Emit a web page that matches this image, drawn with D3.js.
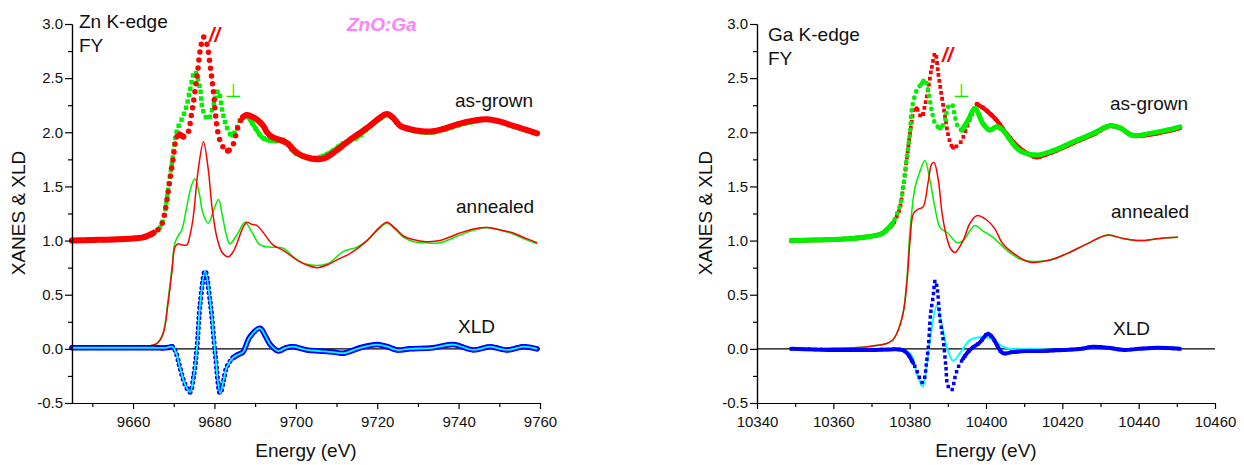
<!DOCTYPE html>
<html>
<head>
<meta charset="utf-8">
<script src="https://cdn.jsdelivr.net/npm/d3@7/dist/d3.min.js"></script>
<style>
  body { margin: 0; background: #fff; }
  svg { font-family: "Liberation Sans", Arial, sans-serif; }
</style>
</head>
<body>
<svg width="1244" height="465"></svg>
<script>
// ---- axis ticks ----
var yTicks = [-0.5, 0, 0.5, 1, 1.5, 2, 2.5, 3];
var yMinor = [-0.25, 0.25, 0.75, 1.25, 1.75, 2.25, 2.75];
var znTicks = [9660, 9680, 9700, 9720, 9740, 9760];
var znMinor = [9650, 9670, 9690, 9710, 9730, 9750];
var gaTicks = [10340, 10360, 10380, 10400, 10420, 10440, 10460];
var gaMinor = [10350, 10370, 10390, 10410, 10430, 10450];

// ---- Zn K-edge, [energy eV, value] ----
var znParGrown = [[9645,1.00],[9650,1.005],[9655,1.01],[9660,1.02],[9662.5,1.03],[9665,1.07],[9666.6,1.12],[9667.4,1.19],[9668.3,1.37],[9669,1.55],[9669.8,1.74],[9670.8,1.96],[9671.5,1.98],[9672.3,1.96],[9673.2,1.97],[9674.5,2.20],[9675.7,2.51],[9676.6,2.78],[9677.3,2.88],[9678.1,2.82],[9679,2.60],[9679.7,2.39],[9680.9,1.99],[9682,1.87],[9683.3,1.83],[9684.5,1.88],[9685.8,2.05],[9687,2.14],[9688,2.16],[9689.5,2.14],[9690.7,2.11],[9692,2.06],[9692.9,2.00],[9694,1.96],[9695.3,1.94],[9697.8,1.90],[9700.3,1.81],[9702.5,1.77],[9705.2,1.75],[9707,1.76],[9709.2,1.81],[9711.3,1.87],[9713.3,1.93],[9717.5,2.04],[9720.5,2.13],[9722.4,2.17],[9724,2.13],[9725.6,2.06],[9728,2.03],[9731,2.01],[9733.7,2.01],[9737,2.04],[9740.3,2.08],[9744,2.11],[9747,2.12],[9750,2.10],[9753.4,2.06],[9756,2.03],[9759.3,1.99]];
var znPerpGrown = [[9645,1.00],[9650,1.005],[9655,1.01],[9660,1.02],[9662.5,1.03],[9665,1.07],[9666.6,1.12],[9667.4,1.19],[9668.3,1.38],[9669,1.57],[9669.8,1.78],[9670.5,1.97],[9671,2.04],[9672.3,2.15],[9673.2,2.25],[9674,2.39],[9675.2,2.56],[9676.4,2.42],[9677.2,2.20],[9678.4,2.12],[9679.7,2.24],[9680.9,2.38],[9682.1,2.17],[9683,2.05],[9684.3,1.97],[9685.3,2.02],[9686.3,2.11],[9688,2.16],[9689.2,2.09],[9690.4,2.02],[9691.5,1.96],[9692.9,1.93],[9695.3,1.92],[9696.9,1.93],[9698,1.90],[9699.4,1.82],[9702.7,1.77],[9706,1.77],[9709.1,1.83],[9711.7,1.90],[9715,1.95],[9717.5,2.03],[9720.5,2.12],[9722.4,2.16],[9724,2.13],[9725.6,2.06],[9728,2.02],[9731,2.00],[9733.7,2.00],[9737,2.03],[9740.3,2.07],[9744,2.10],[9747,2.12],[9750,2.10],[9753.4,2.06],[9756,2.03],[9759.3,1.99]];
var znParAnn = [[9645,0],[9655,0],[9660,0.005],[9663,0.02],[9665.9,0.05],[9667.4,0.14],[9668.6,0.42],[9669.6,0.73],[9670.3,0.94],[9671.1,0.97],[9672,0.96],[9673.2,0.96],[9674,1.05],[9674.8,1.22],[9676,1.65],[9677.3,1.91],[9678.5,1.65],[9679.4,1.31],[9680.6,1.03],[9681.9,0.89],[9683.4,0.85],[9684.5,0.89],[9685.5,0.97],[9687,1.12],[9688,1.17],[9689.2,1.15],[9690.4,1.14],[9691.9,1.08],[9694.4,0.96],[9696.9,0.91],[9700.3,0.82],[9703,0.77],[9705.2,0.75],[9708,0.78],[9710,0.82],[9713.3,0.88],[9717.5,1.00],[9720.5,1.12],[9722.4,1.17],[9724.5,1.11],[9726.5,1.04],[9728.8,1.01],[9732,0.99],[9735.4,1.00],[9740.3,1.07],[9744,1.11],[9747,1.12],[9750,1.10],[9753.4,1.07],[9756.5,1.02],[9759.3,0.98]];
var znPerpAnn = [[9645,0],[9655,0],[9660,0.005],[9663,0.02],[9665.9,0.05],[9667.4,0.15],[9668.6,0.45],[9669.6,0.76],[9670.3,0.98],[9671.5,1.07],[9672,1.10],[9673.2,1.31],[9674.3,1.50],[9675.2,1.57],[9676.2,1.45],[9677.2,1.25],[9678.5,1.16],[9679.7,1.27],[9681,1.38],[9682,1.22],[9683,1.04],[9683.8,0.97],[9685.8,1.07],[9687.5,1.17],[9689.2,1.08],[9691.2,0.96],[9693.6,0.94],[9696.9,0.93],[9699.4,0.85],[9701.8,0.79],[9705,0.77],[9708,0.79],[9711.7,0.90],[9715,0.94],[9717.5,1.00],[9720.5,1.11],[9722.4,1.16],[9724.5,1.10],[9726.5,1.03],[9729,0.99],[9732,0.98],[9735.4,0.98],[9740.3,1.05],[9744,1.10],[9747,1.12],[9750,1.10],[9753.4,1.06],[9756.5,1.01],[9759.3,0.97]];
var znXld = [[9645,0.01],[9655,0.01],[9665,0.01],[9668,0.01],[9669.6,0.02],[9670.5,-0.03],[9671.5,-0.17],[9672.8,-0.33],[9674,-0.40],[9674.9,-0.25],[9675.7,0.01],[9676.5,0.42],[9677.7,0.72],[9679,0.42],[9680.2,-0.05],[9681.4,-0.41],[9682.2,-0.30],[9683,-0.17],[9684.6,-0.08],[9686,-0.05],[9687,-0.03],[9688.7,0.11],[9691.2,0.19],[9692.5,0.12],[9693.7,0.04],[9695.7,-0.02],[9697.5,0.01],[9699.4,0.02],[9702.7,-0.01],[9706,-0.02],[9709.2,-0.03],[9711.7,-0.04],[9715.8,0.01],[9720,0.04],[9722.5,0.02],[9724.8,-0.01],[9728,0.00],[9733.7,0.01],[9738.7,0.04],[9743.6,-0.01],[9747.7,0.02],[9751.9,-0.01],[9755.9,0.02],[9759.3,0.00]];

// ---- Ga K-edge ----
var gaParGrown = [[10349,1.00],[10355,1.005],[10360,1.01],[10365,1.02],[10370,1.04],[10372.5,1.06],[10374,1.10],[10375.5,1.15],[10376.6,1.22],[10377.5,1.31],[10378.3,1.49],[10379.3,1.77],[10380.1,1.99],[10380.6,2.11],[10381.2,2.22],[10381.8,2.22],[10383.1,2.14],[10384,2.25],[10384.8,2.39],[10385.8,2.60],[10386.7,2.73],[10387.5,2.54],[10388.4,2.33],[10389.3,2.14],[10390,1.99],[10390.7,1.90],[10391.4,1.86],[10393.2,1.90],[10395,2.05],[10396.7,2.20],[10397.6,2.26],[10400.2,2.20],[10402.8,2.11],[10405.5,1.98],[10408.9,1.85],[10412.3,1.78],[10413.3,1.77],[10417.6,1.82],[10422.8,1.90],[10428.1,1.98],[10432.5,2.06],[10435.1,2.04],[10438.5,1.97],[10443,1.98],[10447.4,2.01],[10450.8,2.04]];
var gaPerpGrown = [[10349,1.00],[10355,1.005],[10360,1.01],[10365,1.02],[10370,1.04],[10372.5,1.06],[10374,1.10],[10375.5,1.16],[10376.6,1.24],[10377.5,1.33],[10378.3,1.50],[10379.3,1.78],[10380.1,2.00],[10380.6,2.22],[10381.9,2.39],[10383.2,2.45],[10384,2.49],[10384.8,2.39],[10385.8,2.20],[10386.7,2.08],[10388,2.04],[10389.3,2.11],[10390,2.23],[10391,2.26],[10391.9,2.14],[10392.7,2.05],[10393.7,2.02],[10395.3,2.11],[10397.1,2.22],[10399.2,2.08],[10401,2.02],[10402.8,2.05],[10404.4,2.02],[10406.3,1.93],[10408.9,1.83],[10413.3,1.79],[10417.6,1.83],[10422.8,1.91],[10428.1,1.99],[10432.5,2.06],[10435.1,2.04],[10438.5,1.97],[10443,1.99],[10447.4,2.02],[10450.8,2.05]];
var gaParAnn = [[10349,0],[10355,0],[10360,0.005],[10365.2,0.01],[10370,0.025],[10374,0.05],[10375.5,0.08],[10376.6,0.14],[10378.3,0.33],[10379.3,0.62],[10380.1,1.00],[10381,1.25],[10382.2,1.29],[10383.5,1.31],[10384.8,1.53],[10385.8,1.71],[10386.4,1.72],[10387.5,1.56],[10388.5,1.25],[10389.7,1.03],[10390.8,0.92],[10391.9,0.89],[10394,1.00],[10395.8,1.16],[10397.6,1.23],[10400.2,1.19],[10402.3,1.11],[10404.4,0.97],[10408.1,0.86],[10411.5,0.80],[10416.8,0.82],[10421.2,0.88],[10426.5,0.97],[10431.7,1.05],[10435.9,1.02],[10440.3,1.00],[10445.6,1.02],[10450.3,1.03]];
var gaPerpAnn = [[10349,0],[10355,0],[10360,0.005],[10365.2,0.01],[10370,0.025],[10374,0.05],[10375.5,0.08],[10376.6,0.14],[10378.3,0.34],[10379.3,0.66],[10380.1,1.10],[10381.4,1.49],[10382.7,1.64],[10384,1.74],[10385.3,1.56],[10386.6,1.31],[10388,1.12],[10390,1.07],[10392.4,0.98],[10394,1.00],[10395.8,1.09],[10397.1,1.14],[10399.2,1.09],[10401.8,1.03],[10405.5,0.91],[10408.9,0.83],[10411.5,0.81],[10416.8,0.82],[10421.2,0.88],[10426.5,0.97],[10431.7,1.05],[10435.9,1.02],[10440.3,1.00],[10445.6,1.02],[10450.3,1.03]];
var gaXld = [[10349,0.00],[10355,-0.005],[10360,-0.01],[10365,-0.01],[10370,-0.01],[10375,-0.005],[10378,-0.01],[10379.3,-0.04],[10380.9,-0.13],[10382.2,-0.23],[10383.2,-0.31],[10383.8,-0.28],[10384.4,-0.13],[10384.9,0.02],[10385.5,0.33],[10386.1,0.47],[10386.7,0.63],[10387.2,0.56],[10387.9,0.29],[10388.8,0.08],[10389.5,-0.17],[10390,-0.34],[10391,-0.38],[10391.9,-0.26],[10392.7,-0.17],[10394,-0.09],[10395.8,-0.01],[10398.4,0.06],[10400.5,0.14],[10401.8,0.10],[10403.1,0.02],[10404.4,-0.04],[10407,-0.03],[10410.7,-0.02],[10415,-0.02],[10420,-0.01],[10425,0.00],[10428,0.02],[10432,0.01],[10436,-0.01],[10440,0.00],[10445,0.01],[10450.8,0.00]];
var gaXldSim = [[10349,0.00],[10360,-0.005],[10370,-0.005],[10377,-0.01],[10380.1,-0.04],[10381.9,-0.23],[10383.4,-0.35],[10384.4,-0.17],[10385.3,0.08],[10387.1,0.40],[10388.4,0.23],[10389.7,0.02],[10391.4,-0.11],[10393.2,-0.04],[10395.8,0.08],[10399.2,0.11],[10401.8,0.09],[10404.4,0.02],[10406.3,0.00],[10412,0.00],[10420,-0.01],[10428,0.01],[10435,0.00],[10442,0.00],[10450.8,0.01]];

var RED = "#ff0000", GREEN = "#00f000", BLUE = "#0000ff", CYAN = "#00ffff";
var svg = d3.select("svg");

function drawPanel(p) {
  var x = d3.scaleLinear().domain(p.xDomain).range(p.xRange);
  var y = d3.scaleLinear().domain([-0.5, 3.0]).range([403, 24]);
  var g = svg.append("g");
  var line = d3.line()
    .x(function (d) { return x(d[0]); })
    .y(function (d) { return y(d[1]); })
    .curve(d3.curveCatmullRom.alpha(0.5));

  // horizontal zero line
  g.append("line")
    .attr("x1", p.xRange[0]).attr("x2", p.xRange[1])
    .attr("y1", y(0)).attr("y2", y(0))
    .attr("stroke", "#000").attr("stroke-width", 1.2);

  function thin(data, color, w) {
    g.append("path").datum(data)
      .attr("d", line).attr("fill", "none")
      .attr("stroke", color).attr("stroke-width", w || 1.5);
  }

  // dense scatter: beads along the curve, solid band where the curve is flat
  function dots(data, color, size, cap, step, band) {
    g.append("path").datum(data)
      .attr("d", line).attr("fill", "none")
      .attr("stroke", color).attr("stroke-width", size)
      .attr("stroke-linecap", cap)
      .attr("stroke-dasharray", "0," + step);
    var slope = data.map(function (d, i) {
      if (i === 0) return 0;
      var a = data[i - 1];
      return Math.abs((y(d[1]) - y(a[1])) / (x(d[0]) - x(a[0])));
    });
    var flat = data.map(function (d, i) {
      var s1 = slope[i], s2 = i + 1 < data.length ? slope[i + 1] : 0;
      return Math.max(s1, s2) < 2.2;
    });
    g.append("path").datum(data)
      .attr("d", line.defined(function (d, i) { return flat[i]; }))
      .attr("fill", "none")
      .attr("stroke", color).attr("stroke-width", band || size)
      .attr("stroke-linecap", "round");
    line.defined(function () { return true; });
  }

  p.draw(thin, dots);

  // axes
  var ax = g.append("g").attr("transform", "translate(" + p.xRange[0] + ",0)");
  ax.call(d3.axisLeft(y).tickValues(yTicks).tickSize(7).tickPadding(2).tickSizeOuter(0)
    .tickFormat(function (d) { return d.toFixed(1); }));
  ax.append("g").call(d3.axisLeft(y).tickValues(yMinor).tickSize(4).tickSizeOuter(0).tickFormat(""));
  var bx = g.append("g").attr("transform", "translate(0," + y.range()[0] + ")");
  bx.call(d3.axisBottom(x).tickValues(p.ticks).tickSize(6).tickPadding(7).tickSizeOuter(0)
    .tickFormat(d3.format("d")));
  bx.append("g").call(d3.axisBottom(x).tickValues(p.minor).tickSize(4).tickSizeOuter(0).tickFormat(""));
  g.selectAll(".domain, .tick line").attr("stroke", "#000").attr("stroke-width", 1.2);
  g.selectAll(".tick text")
    .attr("font-size", 15).attr("fill", "#111")
    .attr("font-family", "'Liberation Sans', Arial, sans-serif");

  // axis titles
  g.append("text")
    .attr("transform", "translate(" + p.yTitleX + ",213) rotate(-90)")
    .attr("text-anchor", "middle").attr("font-size", 19).attr("fill", "#111")
    .text("XANES & XLD");
  g.append("text")
    .attr("x", p.xTitleX).attr("y", 457)
    .attr("text-anchor", "middle").attr("font-size", 19).attr("fill", "#111")
    .text("Energy (eV)");

  // annotations
  p.labels.forEach(function (l) {
    g.append("text")
      .attr("x", l.x).attr("y", l.y)
      .attr("font-size", l.size || 19)
      .attr("fill", l.color || "#111")
      .attr("font-style", l.italic ? "italic" : null)
      .attr("font-weight", l.bold ? "bold" : null)
      .attr("font-family", l.font || null)
      .text(l.t);
  });
}

drawPanel({
  xDomain: [9645, 9760], xRange: [72, 540],
  ticks: znTicks, minor: znMinor,
  yTitleX: 25, xTitleX: 306,
  draw: function (thin, dots) {
    dots(znPerpGrown, GREEN, 4.5, "square", 6.5);
    dots(znParGrown, RED, 5.5, "round", 8, 6);
    thin(znPerpAnn, GREEN);
    thin(znParAnn, RED);
    dots(znXld, BLUE, 5, "round", 5, 5.5);
    thin(znXld, CYAN, 1.8);
  },
  labels: [
    { t: "Zn K-edge", x: 79, y: 28 },
    { t: "FY", x: 79, y: 52 },
    { t: "//", x: 209, y: 42, color: RED, italic: true, bold: true, size: 20 },
    { t: "\u22A5", x: 225, y: 97, color: GREEN, size: 19, font: "'DejaVu Sans', sans-serif" },
    { t: "ZnO:Ga", x: 347, y: 31, color: "#ff80ff", italic: true, bold: true },
    { t: "as-grown", x: 455, y: 107 },
    { t: "annealed", x: 456, y: 213 },
    { t: "XLD", x: 458, y: 333 }
  ]
});

drawPanel({
  xDomain: [10340, 10460], xRange: [757, 1215],
  ticks: gaTicks, minor: gaMinor,
  yTitleX: 712, xTitleX: 986,
  draw: function (thin, dots) {
    dots(gaParGrown, RED, 3.8, "square", 6, 4.5);
    dots(gaPerpGrown, GREEN, 4.8, "round", 6.5, 5);
    thin(gaPerpAnn, GREEN);
    thin(gaParAnn, RED);
    thin(gaXldSim, CYAN, 2);
    dots(gaXld, BLUE, 3.5, "square", 6, 4);
  },
  labels: [
    { t: "Ga K-edge", x: 768, y: 41 },
    { t: "FY", x: 768, y: 65 },
    { t: "//", x: 942, y: 62, color: RED, italic: true, bold: true, size: 20 },
    { t: "\u22A5", x: 953, y: 97, color: GREEN, size: 19, font: "'DejaVu Sans', sans-serif" },
    { t: "as-grown", x: 1110, y: 110 },
    { t: "annealed", x: 1111, y: 218 },
    { t: "XLD", x: 1113, y: 335 }
  ]
});
</script>
</body>
</html>
